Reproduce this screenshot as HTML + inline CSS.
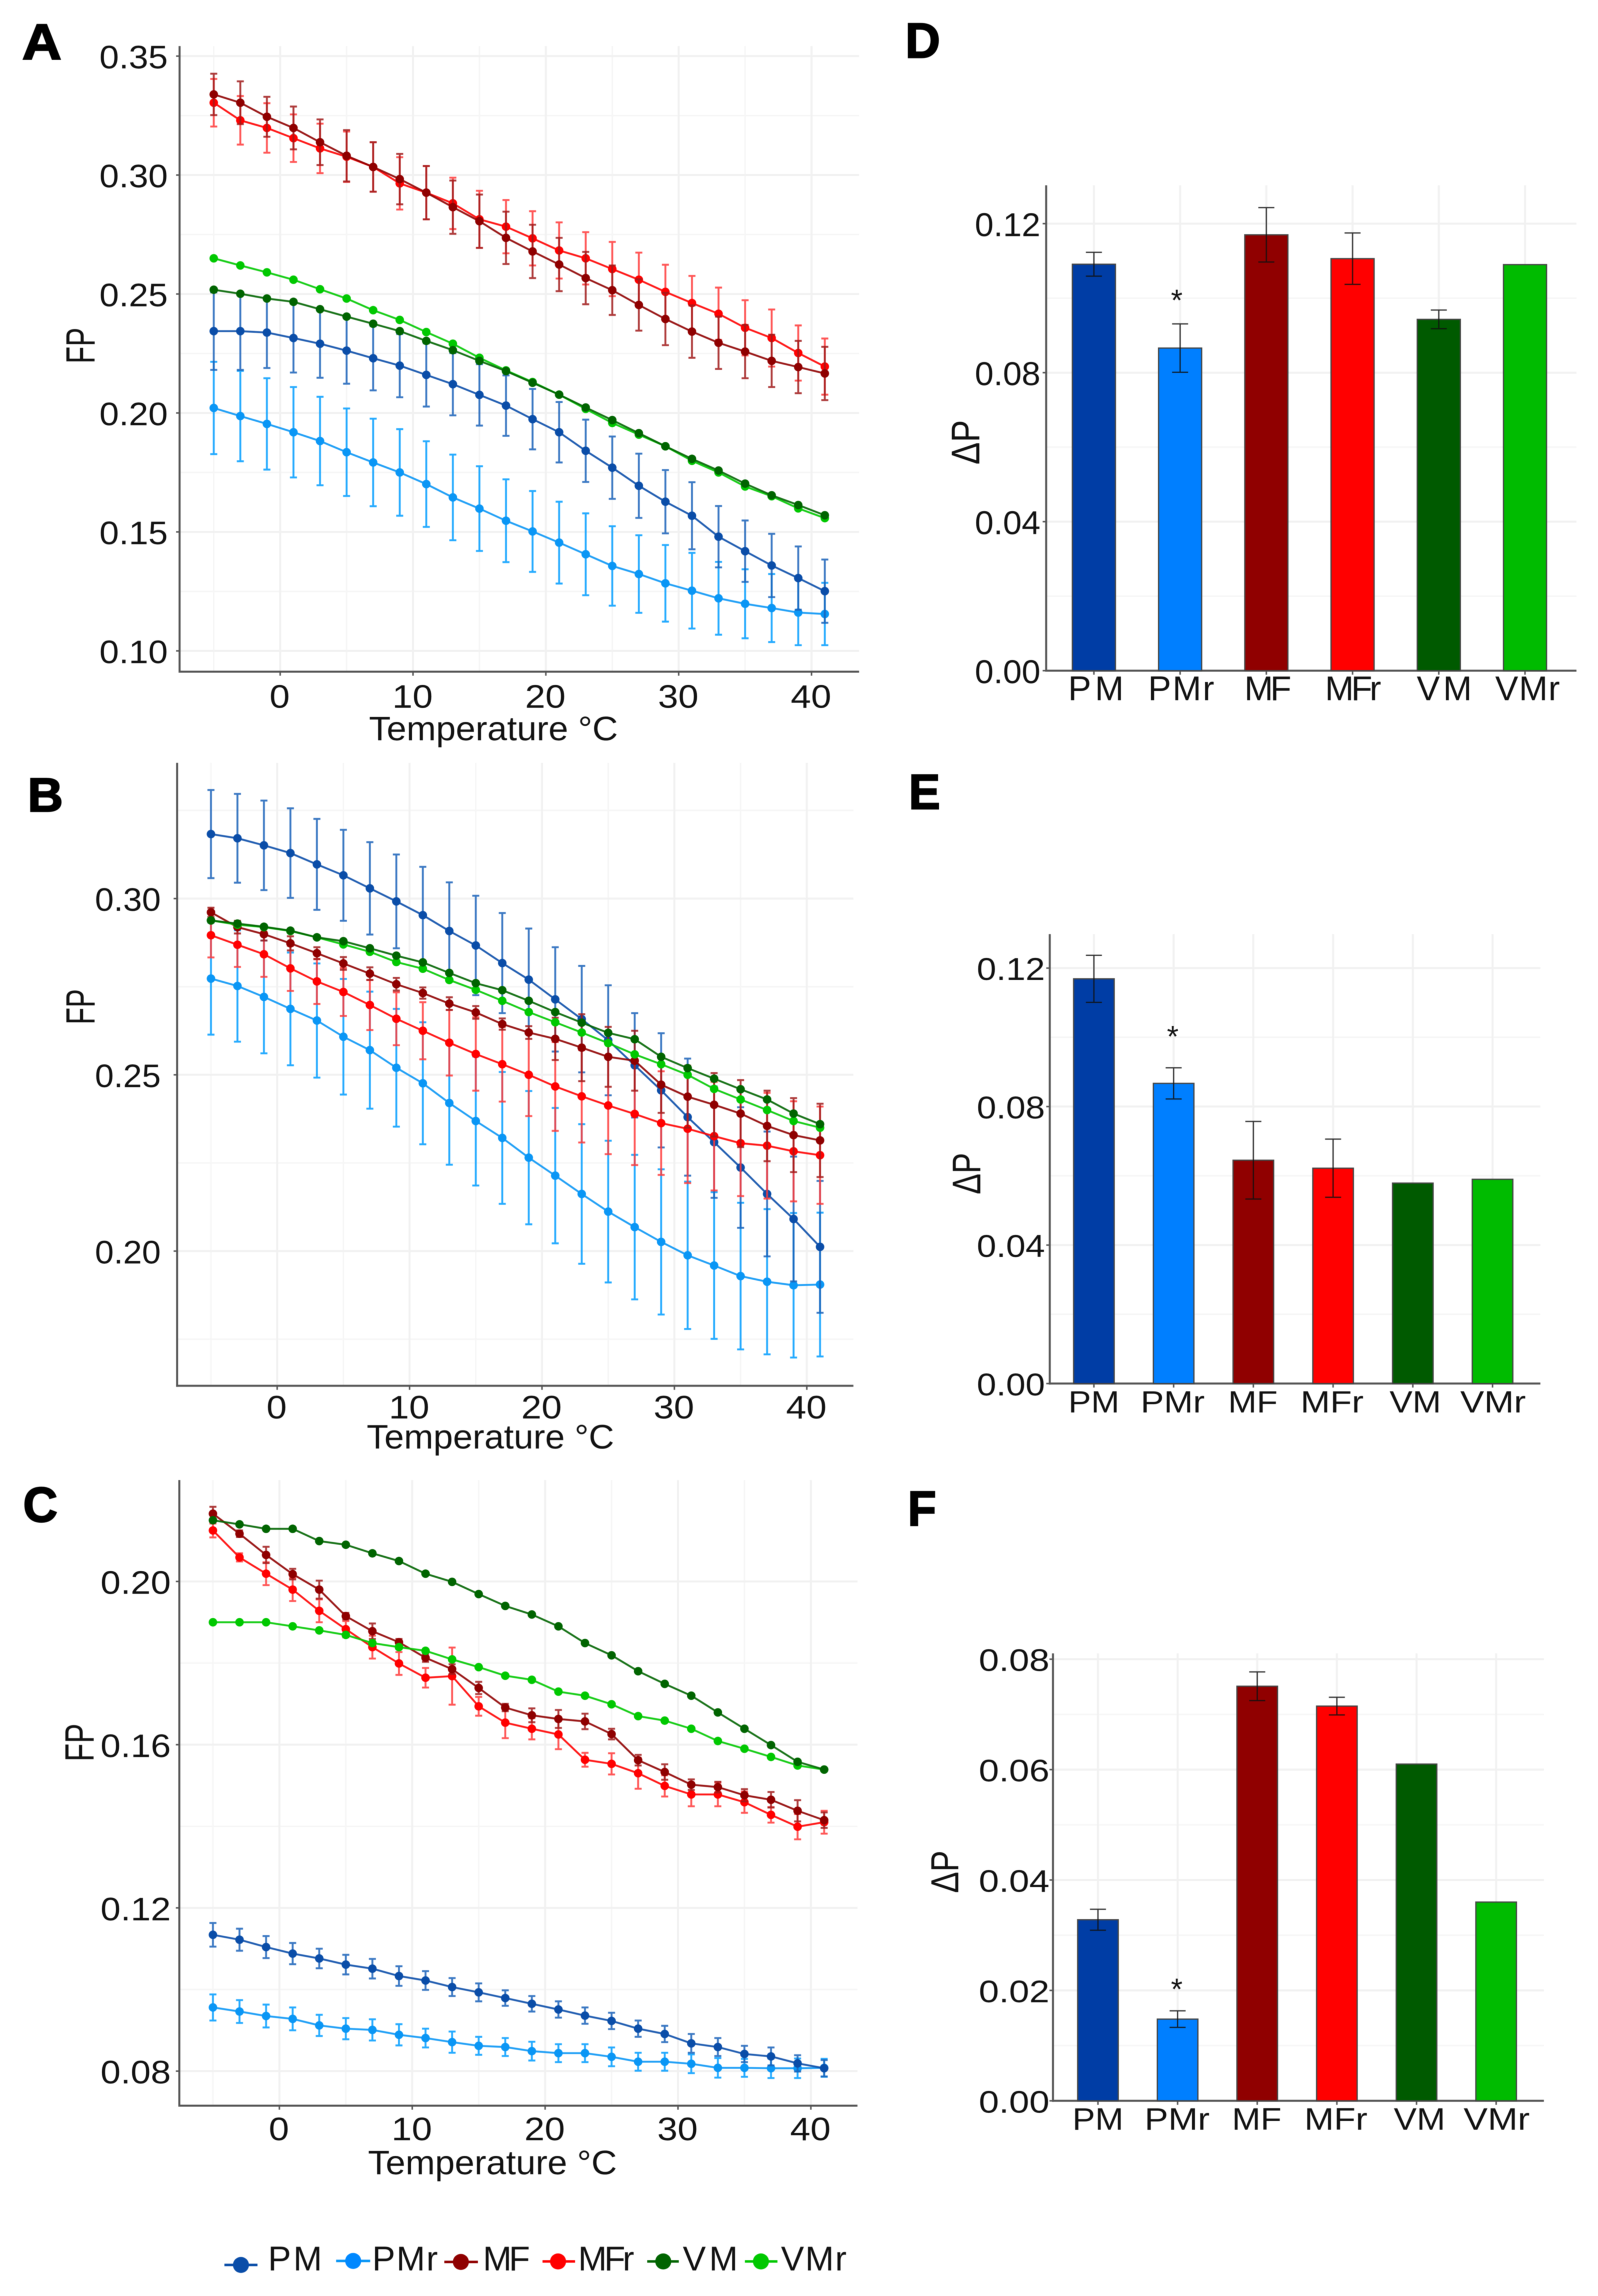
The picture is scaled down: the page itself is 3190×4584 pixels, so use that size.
<!DOCTYPE html>
<html lang="en">
<head>
<meta charset="utf-8">
<title>FP and delta-P by temperature</title>
<style>
html,body{margin:0;padding:0;background:#fff;width:3190px;height:4584px;overflow:hidden}
svg{display:block;filter:blur(.7px)}
text{font-family:"Liberation Sans",sans-serif;fill:#111}
.letter{font-weight:bold;stroke:#000;stroke-width:2.5px;fill:#000}
</style>
</head>
<body>
<svg id="figure" xmlns="http://www.w3.org/2000/svg" width="3190" height="4584" viewBox="0 0 3190 4584">
<rect width="3190" height="4584" fill="#fff"/>

<g id="panel-a"></g>
<g id="panel-b"></g>
<g id="panel-c"></g>
<g id="panel-d"></g>
<g id="panel-e"></g>
<g id="panel-f"></g>

<text class="letter" x="44" y="118" font-size="100" textLength="79" lengthAdjust="spacingAndGlyphs">A</text>
<text class="letter" x="55" y="1620" font-size="96" textLength="71" lengthAdjust="spacingAndGlyphs">B</text>
<text class="letter" x="46" y="3038" font-size="98" textLength="69" lengthAdjust="spacingAndGlyphs">C</text>
<text class="letter" x="1807" y="115" font-size="98" textLength="70" lengthAdjust="spacingAndGlyphs">D</text>
<text class="letter" x="1814" y="1615" font-size="98" textLength="63" lengthAdjust="spacingAndGlyphs">E</text>
<text class="letter" x="1812" y="3046" font-size="98" textLength="57" lengthAdjust="spacingAndGlyphs">F</text>

<text x="985" y="1478" font-size="68" text-anchor="middle" textLength="497" lengthAdjust="spacingAndGlyphs">Temperature °C</text>
<text x="979" y="2892" font-size="68" text-anchor="middle" textLength="494" lengthAdjust="spacingAndGlyphs">Temperature °C</text>
<text x="983" y="4341" font-size="68" text-anchor="middle" textLength="497" lengthAdjust="spacingAndGlyphs">Temperature °C</text>

<text transform="translate(189,690) rotate(-90)" font-size="82" text-anchor="middle" textLength="72" lengthAdjust="spacingAndGlyphs">FP</text>
<text transform="translate(189,2010) rotate(-90)" font-size="82" text-anchor="middle" textLength="71" lengthAdjust="spacingAndGlyphs">FP</text>
<text transform="translate(187,3479) rotate(-90)" font-size="82" text-anchor="middle" textLength="76" lengthAdjust="spacingAndGlyphs">FP</text>
<text transform="translate(1955,883) rotate(-90)" font-size="80" text-anchor="middle" textLength="89" lengthAdjust="spacingAndGlyphs">ΔP</text>
<text transform="translate(1957,2343) rotate(-90)" font-size="80" text-anchor="middle" textLength="83" lengthAdjust="spacingAndGlyphs">ΔP</text>
<text transform="translate(1913,3737) rotate(-90)" font-size="78" text-anchor="middle" textLength="85" lengthAdjust="spacingAndGlyphs">ΔP</text>

<text x="2349" y="620" font-size="60" text-anchor="middle">*</text>
<text x="2341" y="2090" font-size="60" text-anchor="middle">*</text>
<text x="2349" y="3992" font-size="60" text-anchor="middle">*</text>

<g id="legend">
  <g>
    <line x1="448" x2="514" y1="4522" y2="4522" stroke="#0a4da8" stroke-width="5"/>
    <circle cx="481" cy="4522" r="16" fill="#0a4da8"/>
    <text x="535" y="4533" font-size="69" textLength="108">PM</text>
  </g>
  <g>
    <line x1="671" x2="739" y1="4514" y2="4514" stroke="#0a96f5" stroke-width="5"/>
    <circle cx="705" cy="4514" r="16" fill="#0088ff"/>
    <text x="743" y="4533" font-size="69" textLength="131">PMr</text>
  </g>
  <g>
    <line x1="887" x2="954" y1="4516" y2="4516" stroke="#8f0000" stroke-width="5"/>
    <circle cx="920" cy="4516" r="16" fill="#8f0000"/>
    <text x="964" y="4533" font-size="69" textLength="94">MF</text>
  </g>
  <g>
    <line x1="1083" x2="1148" y1="4515" y2="4515" stroke="#ff0000" stroke-width="5"/>
    <circle cx="1114" cy="4515" r="16" fill="#ff0000"/>
    <text x="1154" y="4533" font-size="69" textLength="112">MFr</text>
  </g>
  <g>
    <line x1="1292" x2="1355" y1="4515" y2="4515" stroke="#006400" stroke-width="5"/>
    <circle cx="1324" cy="4515" r="16" fill="#006400"/>
    <text x="1363" y="4533" font-size="69" textLength="110">VM</text>
  </g>
  <g>
    <line x1="1487" x2="1552" y1="4515" y2="4515" stroke="#00c800" stroke-width="5"/>
    <circle cx="1519" cy="4515" r="16" fill="#00c800"/>
    <text x="1559" y="4533" font-size="69" textLength="131">VMr</text>
  </g>
</g>
</svg>

<script>
/* ---------- shared categories ---------- */
const temperatures = [-5,-3,-1,1,3,5,7,9,11,13,15,17,19,21,23,25,27,29,31,33,35,37,39,41];
const seriesNames = ["PM","PMr","MF","MFr","VM","VMr"];
const xTickLabels = [0,10,20,30,40];
const xMinorTicks = [-5,5,15,25,35];

/* ---------- panel A ---------- */
const aYTicks = ["0.10","0.15","0.20","0.25","0.30","0.35"];
const aYMinor = [0.125,0.175,0.225,0.275,0.325];
const aPM = [.2344,.2344,.2338,.2315,.2291,.2262,.2230,.2199,.2160,.2121,.2076,.2031,.1974,.1919,.1841,.1770,.1694,.1627,.1568,.1480,.1419,.1359,.1306,.1251];
const aPMerr = [.0163,.0163,.0149,.0145,.0143,.0139,.0135,.0133,.0133,.0131,.0129,.0127,.0127,.0127,.0131,.0131,.0135,.0133,.0141,.0129,.0129,.0133,.0133,.0133];
const aPMr = [.2021,.1987,.1954,.1919,.1882,.1835,.1792,.1750,.1701,.1645,.1598,.1547,.1502,.1455,.1406,.1357,.1323,.1284,.1253,.1221,.1198,.1180,.1161,.1155];
const aPMrErr = [.0194,.0190,.0192,.0190,.0186,.0184,.0184,.0182,.0180,.0180,.0178,.0174,.0170,.0172,.0172,.0167,.0163,.0161,.0159,.0153,.0145,.0143,.0137,.0131];
const aMF = [.3339,.3304,.3245,.3198,.3138,.3081,.3034,.2983,.2926,.2865,.2806,.2736,.2679,.2624,.2567,.2516,.2454,.2395,.2342,.2295,.2258,.2219,.2193,.2166];
const aMFerr = [.0087,.0090,.0084,.0090,.0096,.0108,.0104,.0106,.0112,.0112,.0112,.0110,.0112,.0112,.0110,.0104,.0108,.0110,.0110,.0110,.0112,.0110,.0110,.0112];
const aMFr = [.3304,.3230,.3198,.3155,.3112,.3077,.3034,.2965,.2926,.2881,.2814,.2783,.2734,.2683,.2650,.2605,.2560,.2509,.2462,.2417,.2358,.2315,.2252,.2195];
const aMFrErr = [.0100,.0102,.0104,.0100,.0104,.0106,.0104,.0110,.0112,.0108,.0120,.0112,.0114,.0118,.0110,.0114,.0114,.0114,.0114,.0110,.0116,.0120,.0116,.0118];
const aVM = [.2518,.2501,.2481,.2467,.2436,.2405,.2375,.2344,.2303,.2264,.2219,.2176,.2127,.2077,.2023,.1970,.1915,.1860,.1807,.1758,.1703,.1654,.1613,.1570];
const aVMr = [.2650,.2620,.2591,.2560,.2520,.2481,.2432,.2391,.2340,.2291,.2232,.2179,.2130,.2077,.2017,.1958,.1909,.1860,.1799,.1750,.1691,.1650,.1599,.1558];

/* ---------- panel B ---------- */
const bYTicks = ["0.20","0.25","0.30"];
const bYMinor = [0.175,0.225,0.275,0.325];
const bPM = [.3183,.3171,.3151,.3129,.3097,.3066,.3029,.2992,.2953,.2908,.2867,.2817,.2770,.2714,.2658,.2598,.2527,.2456,.2380,.2309,.2237,.2162,.2091,.2012];
const bPMerr = [.0125,.0126,.0127,.0127,.0129,.0129,.0131,.0133,.0137,.0138,.0141,.0142,.0145,.0148,.0151,.0156,.0148,.0162,.0166,.0158,.0171,.0177,.0177,.0187];
const bPMr = [.2773,.2752,.2721,.2687,.2654,.2608,.2570,.2520,.2476,.2420,.2369,.2321,.2265,.2214,.2162,.2112,.2068,.2026,.1988,.1959,.1929,.1913,.1903,.1905];
const bPMrErr = [.0159,.0158,.0160,.0160,.0162,.0164,.0166,.0167,.0173,.0175,.0183,.0187,.0189,.0192,.0198,.0201,.0205,.0206,.0209,.0208,.0208,.0206,.0205,.0204];
const bMF = [.2961,.2919,.2899,.2873,.2845,.2816,.2787,.2757,.2732,.2702,.2677,.2644,.2620,.2602,.2577,.2551,.2540,.2472,.2438,.2415,.2390,.2355,.2329,.2314];
const bMFerr = [.0013,.0018,.0018,.0020,.0017,.0018,.0018,.0018,.0016,.0018,.0018,.0016,.0018,.0060,.0095,.0085,.0085,.0080,.0088,.0090,.0095,.0100,.0105,.0104];
const bMFr = [.2896,.2869,.2842,.2802,.2765,.2735,.2698,.2659,.2625,.2591,.2559,.2530,.2500,.2467,.2439,.2413,.2389,.2363,.2347,.2326,.2306,.2299,.2283,.2272];
const bMFrErr = [.0063,.0063,.0064,.0064,.0064,.0068,.0071,.0075,.0081,.0093,.0104,.0106,.0117,.0126,.0131,.0138,.0145,.0147,.0154,.0154,.0150,.0150,.0142,.0138];
const bVM = [.2938,.2929,.2920,.2909,.2890,.2879,.2859,.2838,.2819,.2789,.2760,.2740,.2710,.2678,.2648,.2619,.2601,.2551,.2519,.2489,.2459,.2430,.2390,.2360];
const bVMr = [.2938,.2926,.2919,.2908,.2890,.2870,.2849,.2820,.2801,.2769,.2741,.2710,.2678,.2649,.2620,.2590,.2558,.2530,.2500,.2460,.2430,.2400,.2369,.2350];

/* ---------- panel C ---------- */
const cYTicks = ["0.08","0.12","0.16","0.20"];
const cYMinor = [0.10,0.14,0.18];
const cPM = [.1134,.1122,.1104,.1088,.1076,.1061,.1051,.1033,.1022,.1006,.0993,.0979,.0965,.0951,.0936,.0923,.0904,.0891,.0868,.0859,.0842,.0836,.0819,.0807];
const cPMerr = [.0029,.0027,.0027,.0026,.0024,.0024,.0024,.0024,.0023,.0022,.0022,.0019,.0019,.0020,.0020,.0020,.0020,.0020,.0023,.0022,.0020,.0022,.0020,.0020];
const cPMr = [.0956,.0946,.0935,.0928,.0912,.0904,.0901,.0889,.0881,.0871,.0862,.0859,.0849,.0844,.0844,.0835,.0823,.0823,.0818,.0808,.0808,.0807,.0807,.0808];
const cPMrErr = [.0032,.0028,.0028,.0028,.0026,.0026,.0026,.0026,.0023,.0026,.0022,.0022,.0023,.0022,.0022,.0023,.0022,.0022,.0023,.0024,.0022,.0024,.0024,.0022];
const cMF = [.2166,.2117,.2065,.2018,.1980,.1915,.1878,.1851,.1813,.1785,.1739,.1691,.1672,.1663,.1657,.1626,.1562,.1533,.1502,.1496,.1476,.1465,.1438,.1415];
const cMFerr = [.0017,.0008,.0020,.0013,.0022,.0008,.0019,.0008,.0010,.0012,.0015,.0009,.0017,.0022,.0019,.0013,.0013,.0019,.0013,.0013,.0015,.0019,.0026,.0019];
const cMFr = [.2125,.2059,.2019,.1980,.1928,.1883,.1839,.1799,.1764,.1768,.1694,.1654,.1639,.1625,.1563,.1553,.1530,.1499,.1478,.1478,.1459,.1428,.1399,.1410];
const cMFrErr = [.0017,.0010,.0028,.0028,.0028,.0020,.0028,.0028,.0024,.0070,.0023,.0038,.0026,.0036,.0017,.0026,.0038,.0026,.0029,.0029,.0026,.0019,.0031,.0028];
const cVM = [.2150,.2140,.2129,.2129,.2099,.2090,.2069,.2050,.2019,.1999,.1969,.1940,.1919,.1890,.1849,.1819,.1780,.1749,.1720,.1679,.1639,.1599,.1558,.1539];
const cVMr = [.1900,.1900,.1900,.1890,.1880,.1869,.1849,.1839,.1830,.1809,.1790,.1769,.1759,.1730,.1720,.1699,.1670,.1659,.1639,.1609,.1590,.1570,.1549,.1539];

/* ---------- bar panels ---------- */
const dValues = [.1091,.0866,.1170,.1106,.0943,.1090];
const dErrors = [.0032,.0065,.0073,.0069,.0025,0];
const dTicks = ["0.00","0.04","0.08","0.12"];
const dMinor = [.02,.06,.10];
const eValues = [.1169,.0867,.0645,.0622,.0579,.0590];
const eErrors = [.0068,.0045,.0112,.0084,0,0];
const eTicks = ["0.00","0.04","0.08","0.12"];
const eMinor = [.02,.06,.10];
const fValues = [.0328,.0148,.0751,.0715,.0610,.0360];
const fErrors = [.0019,.0015,.0026,.0016,0,0];
const fTicks = ["0.00","0.02","0.04","0.06","0.08"];
const fMinor = [.01,.03,.05,.07];

/* ---------- colours ---------- */
const lineColors = {PM:"#0a4da8",PMr:"#0a96f5",MF:"#8f0000",MFr:"#ff0000",VM:"#006400",VMr:"#00c800"};
const errColors = {PM:"#1a62b8",PMr:"#009cff",MF:"#a01a1a",MFr:"#ff3a3a",VM:"#006400",VMr:"#00c800"};
const barColors = ["#003da5","#007fff","#900000","#ff0000","#005a00","#00bb00"];

const SVGNS = "http://www.w3.org/2000/svg";
function el(tag, attrs, parent){
  const n = document.createElementNS(SVGNS, tag);
  for (const k in attrs) n.setAttribute(k, attrs[k]);
  parent.appendChild(n);
  return n;
}
function scale(d0, d1, r0, r1){
  return v => r0 + (v - d0) * (r1 - r0) / (d1 - d0);
}

function drawFrame(g, frame, xs, ys, yTicks, yMinor, xMajor, xMinor, tick){
  for (const v of yMinor){
    const l = el("line",{x1:frame.l,x2:frame.r,y1:ys(v),y2:ys(v),stroke:"#f6f6f6","stroke-width":3},g);
    
    
  }
  for (const v of xMinor){
    const l = el("line",{x1:xs(v),x2:xs(v),y1:frame.t,y2:frame.b,stroke:"#f6f6f6","stroke-width":3},g);
    
    
  }
  for (const lab of yTicks){
    const y = ys(parseFloat(lab));
    const l = el("line",{x1:frame.l,x2:frame.r,y1:y,y2:y,stroke:"#f1f1f1","stroke-width":4},g);
    
    
    const m = el("line",{x1:frame.l-7,x2:frame.l,y1:y,y2:y,stroke:"#555","stroke-width":3},g);
    
    
    const t = el("text",{"text-anchor":"end","font-size":tick.size,
      transform:"translate("+tick.yRight+","+(y+tick.size*0.38)+") scale("+tick.sx+",1)"},g);
    
    
    t.textContent = lab;
  }
  for (const v of xMajor){
    const l = el("line",{x1:xs(v),x2:xs(v),y1:frame.t,y2:frame.b,stroke:"#f1f1f1","stroke-width":4},g);
    
    
    const m = el("line",{x1:xs(v),x2:xs(v),y1:frame.b,y2:frame.b+8,stroke:"#555","stroke-width":3},g);
    
    
  }
  const ay = el("line",{x1:frame.l,x2:frame.l,y1:frame.t,y2:frame.b+2,stroke:"#555","stroke-width":4},g);
  
  
  const ax = el("line",{x1:frame.l-2,x2:frame.r,y1:frame.b,y2:frame.b,stroke:"#555","stroke-width":4},g);
  
  
}

function drawLinePanel(cfg){
  const g = document.getElementById(cfg.id);
  const xs = scale(0, 40, cfg.x0, cfg.x40);
  const ys = scale(cfg.v0, cfg.v1, cfg.y0, cfg.y1);
  drawFrame(g, cfg.frame, xs, ys, cfg.yTicks, cfg.yMinor, xTickLabels, xMinorTicks, cfg.tick);
  for (const v of xTickLabels){
    const t = el("text",{"text-anchor":"middle","font-size":65,
      transform:"translate("+(xs(v)-1)+","+cfg.xLabelY+") scale(1.12,1)"},g);
    
    
    t.textContent = v;
  }
  for (const s of cfg.series){
    const sg = el("g",{},g);
    
    
    if (s.err){
      s.values.forEach((v,i)=>{
        const x = xs(temperatures[i]), hi = ys(v+s.err[i]), lo = ys(v-s.err[i]);
        const e = el("path",{d:"M"+(x-7)+" "+hi+"H"+(x+7)+"M"+x+" "+hi+"V"+lo+"M"+(x-7)+" "+lo+"H"+(x+7),
          fill:"none",stroke:errColors[s.name],"stroke-width":3.8,opacity:.85},sg);
        
        
      });
    }
    const pts = s.values.map((v,i)=>xs(temperatures[i])+","+ys(v)).join(" ");
    const pl = el("polyline",{points:pts,fill:"none",stroke:lineColors[s.name],"stroke-width":3.8,opacity:.9},sg);
    
    
    s.values.forEach((v,i)=>{
      const c = el("circle",{cx:xs(temperatures[i]),cy:ys(v),r:8.5,fill:lineColors[s.name]},sg);
      
      
    });
  }
}

function drawBarPanel(cfg){
  const g = document.getElementById(cfg.id);
  const xs = scale(0, 5, cfg.c0, cfg.c5);
  const ys = scale(0, cfg.vTop, cfg.y0, cfg.yTop);
  const idx = seriesNames.map((_,i)=>i);
  drawFrame(g, cfg.frame, xs, ys, cfg.yTicks, cfg.yMinor, idx, [], cfg.tick);
  idx.forEach(i=>{
    const top = ys(cfg.values[i]);
    const b = el("rect",{x:xs(i)-cfg.barW/2,y:top,width:cfg.barW,height:cfg.y0-top,fill:barColors[i],stroke:"#444","stroke-width":2.5},g);
    
    
    if (cfg.errors[i] > 0){
      const x = xs(i), hi = ys(cfg.values[i]+cfg.errors[i]), lo = ys(cfg.values[i]-cfg.errors[i]);
      const e = el("path",{d:"M"+(x-16)+" "+hi+"H"+(x+16)+"M"+x+" "+hi+"V"+lo+"M"+(x-16)+" "+lo+"H"+(x+16),
        fill:"none",stroke:"#111","stroke-width":2.5,opacity:.85},g);
      
      
    }
    const t = el("text",{x:xs(i)+cfg.labelShift[i]-cfg.labelW[i]/2,y:cfg.labelY,"font-size":cfg.labelSize,
      textLength:cfg.labelW[i],lengthAdjust:cfg.labelAdjust},g);
    
    
    t.textContent = seriesNames[i];
  });
}

drawLinePanel({id:"panel-a",x0:559.3,x40:1620,v0:.10,v1:.35,y0:1299.5,y1:112,
  frame:{l:358.5,r:1715,t:92,b:1341},xLabelY:1413,
  tick:{size:65,yRight:335,sx:1.08},yTicks:aYTicks,yMinor:aYMinor,
  series:[
    {name:"PMr",values:aPMr,err:aPMrErr},{name:"PM",values:aPM,err:aPMerr},
    {name:"MFr",values:aMFr,err:aMFrErr},{name:"MF",values:aMF,err:aMFerr},
    {name:"VMr",values:aVMr},{name:"VM",values:aVM}]});

drawLinePanel({id:"panel-b",x0:553.3,x40:1610.6,v0:.20,v1:.30,y0:2497.8,y1:1794,
  frame:{l:353.6,r:1703.6,t:1523,b:2766.8},xLabelY:2832,
  tick:{size:65,yRight:321,sx:1.04},yTicks:bYTicks,yMinor:bYMinor,
  series:[
    {name:"PMr",values:bPMr,err:bPMrErr},{name:"PM",values:bPM,err:bPMerr},
    {name:"MFr",values:bMFr,err:bMFrErr},{name:"MF",values:bMF,err:bMFerr},
    {name:"VMr",values:bVMr},{name:"VM",values:bVM}]});

drawLinePanel({id:"panel-c",x0:557.7,x40:1618.7,v0:.08,v1:.20,y0:4135,y1:3157.4,
  frame:{l:358,r:1711.7,t:2955,b:4204},xLabelY:4273,
  tick:{size:65,yRight:341,sx:1.11},yTicks:cYTicks,yMinor:cYMinor,
  series:[
    {name:"PMr",values:cPMr,err:cPMrErr},{name:"PM",values:cPM,err:cPMerr},
    {name:"MFr",values:cMFr,err:cMFrErr},{name:"MF",values:cMF,err:cMFerr},
    {name:"VMr",values:cVMr},{name:"VM",values:cVM}]});

drawBarPanel({id:"panel-d",c0:2183.7,c5:3044.3,vTop:.12,y0:1339,yTop:446.5,barW:86,
  frame:{l:2088.4,r:3147,t:370,b:1339},values:dValues,errors:dErrors,
  yTicks:dTicks,yMinor:dMinor,tick:{size:66,yRight:2077,sx:1.02},
  labelY:1398,labelSize:69,labelAdjust:"spacing",
  labelW:[111,132,94,112,110,129],labelShift:[4,2,3,1,11,5]});

drawBarPanel({id:"panel-e",c0:2183.7,c5:2979.5,vTop:.12,y0:2762.3,yTop:1932.8,barW:81,
  frame:{l:2095.6,r:3075,t:1865,b:2762.3},values:eValues,errors:eErrors,
  yTicks:eTicks,yMinor:eMinor,tick:{size:63,yRight:2086,sx:1.11},
  labelY:2820,labelSize:61,labelAdjust:"spacingAndGlyphs",
  labelW:[102,128,99,126,103,131],labelShift:[0,-2,-1,-2,5,1]});

drawBarPanel({id:"panel-f",c0:2191.8,c5:2986.7,vTop:.08,y0:4194.3,yTop:3312.6,barW:81,
  frame:{l:2102,r:3082,t:3301,b:4194.3},values:fValues,errors:fErrors,
  yTicks:fTicks,yMinor:fMinor,tick:{size:62,yRight:2095,sx:1.17},
  labelY:4252,labelSize:62,labelAdjust:"spacingAndGlyphs",
  labelW:[102,130,99,126,103,132],labelShift:[0,-1,-1,-2,6,1]});
</script>
</body>
</html>
